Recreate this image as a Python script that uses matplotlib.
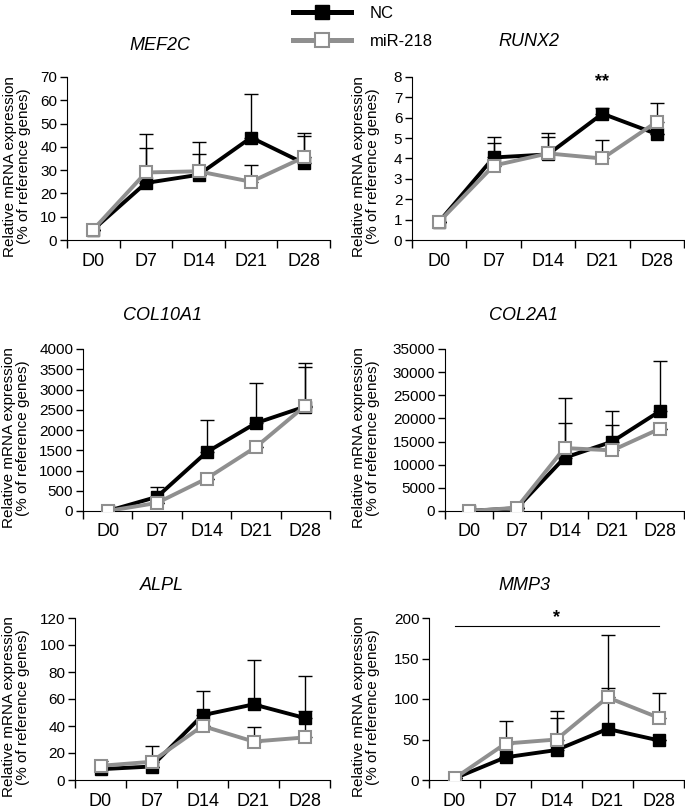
import matplotlib.pyplot as plt
from matplotlib.lines import Line2D

plt.rcParams['font.family'] = ['Liberation Sans', 'DejaVu Sans']

days = ['D0', 'D7', 'D14', 'D21', 'D28']
genes = ['MEF2C', 'RUNX2', 'COL10A1', 'COL2A1', 'ALPL', 'MMP3']

# mean values
nc_mef2c = [4.5, 24.5, 28, 44, 33]
mir_mef2c = [4.5, 29, 29.5, 25, 35.5]
nc_runx2 = [0.9, 4.05, 4.2, 6.2, 5.2]
mir_runx2 = [0.9, 3.65, 4.25, 4.0, 5.8]
nc_col10 = [0, 350, 1450, 2170, 2580]
mir_col10 = [0, 200, 800, 1580, 2600]
nc_col2 = [0, 600, 11500, 15000, 21600]
mir_col2 = [0, 700, 13600, 13100, 17800]
nc_alpl = [8, 10, 48, 56, 46]
mir_alpl = [10.5, 13.5, 40, 28.5, 31.5]
nc_mmp3 = [2, 28, 37, 63, 49]
mir_mmp3 = [2, 45, 50, 102, 77]

# upper error bars (SD, plus side only)
nc_mef2c_err = [0, 15, 14, 18.5, 13]
mir_mef2c_err = [0, 16.5, 7.5, 7, 9]
nc_runx2_err = [0, 0.7, 1.05, 0.3, 0]
mir_runx2_err = [0, 1.4, 0.8, 0.9, 0.9]
nc_col10_err = [0, 250, 800, 980, 1070]
mir_col10_err = [0, 0, 0, 0, 950]
nc_col2_err = [0, 0, 7500, 3500, 10700]
mir_col2_err = [0, 0, 10800, 8500, 0]
nc_alpl_err = [0, 0, 18, 33, 31]
mir_alpl_err = [3.5, 11.5, 0, 11, 19.5]
nc_mmp3_err = [0, 0, 40, 51, 0]
mir_mmp3_err = [0, 28, 35, 77, 31]

ymax = [70, 8, 4000, 35000, 120, 200]
ystep = [10, 1, 500, 5000, 20, 50]

nc_all = [nc_mef2c, nc_runx2, nc_col10, nc_col2, nc_alpl, nc_mmp3]
mir_all = [mir_mef2c, mir_runx2, mir_col10, mir_col2, mir_alpl, mir_mmp3]
nc_err = [nc_mef2c_err, nc_runx2_err, nc_col10_err, nc_col2_err, nc_alpl_err, nc_mmp3_err]
mir_err = [mir_mef2c_err, mir_runx2_err, mir_col10_err, mir_col2_err, mir_alpl_err, mir_mmp3_err]

W, H = 685, 809
# axes boxes in pixels: left, right, top, bottom
boxes = [(67, 330, 77, 240), (412, 684, 77, 240),
         (83, 330, 349, 511), (445, 684, 349, 511),
         (75, 330, 618, 780), (429, 684, 618, 780)]
title_pos = [(160, 45), (529, 42), (162, 315), (524, 315), (162, 585), (524, 585)]
ylab_x = [17, 366, 16, 366, 16, 366]

gray = '#8f8f8f'
fig = plt.figure(figsize=(W / 100, H / 100), dpi=100)

axes = []
for i, g in enumerate(genes):
    l, r, t, b = boxes[i]
    ax = fig.add_axes([l / W, 1 - b / H, (r - l) / W, (b - t) / H])
    axes.append(ax)
    x = list(range(len(days)))

    ax.errorbar(x, nc_all[i], yerr=[[0] * 5, nc_err[i]], fmt='none', ecolor='black',
                elinewidth=1, capsize=5, capthick=1, zorder=1)
    ax.errorbar(x, mir_all[i], yerr=[[0] * 5, mir_err[i]], fmt='none', ecolor='black',
                elinewidth=1, capsize=5, capthick=1, zorder=1)
    ax.plot(x, nc_all[i], color='black', lw=2.8, marker='s', ms=8.5,
            mfc='black', mec='black', zorder=2)
    ax.plot(x, mir_all[i], color=gray, lw=2.8, marker='s', ms=8.5,
            mfc='white', mec=gray, mew=1.5, zorder=3)

    ax.set_xlim(-0.5, 4.5)
    ax.set_ylim(0, ymax[i])
    ax.set_yticks([k * ystep[i] for k in range(int(ymax[i] / ystep[i]) + 1)])
    ax.set_xticks([k - 0.5 for k in range(6)])
    ax.set_xticklabels([])
    ax.set_xticks(x, minor=True)
    ax.set_xticklabels(days, minor=True, fontsize=13)
    ax.tick_params(axis='x', which='major', direction='out', length=6, width=1)
    ax.tick_params(axis='x', which='minor', length=0, pad=9)
    ax.tick_params(axis='y', direction='out', length=5, width=1, labelsize=11, pad=2)
    for s in ['top', 'right']:
        ax.spines[s].set_visible(False)

    fig.text(ylab_x[i] / W, 1 - ((t + b) / 2 + 8) / H,
             'Relative mRNA expression\n(% of reference genes)', rotation=90,
             fontsize=11, linespacing=1.0, ha='center', va='center', multialignment='center')
    fig.text(title_pos[i][0] / W, 1 - title_pos[i][1] / H, g, style='italic',
             fontsize=13, ha='center', va='center')

# significance marks
axes[1].text(3, 7.75, '**', ha='center', va='center', fontsize=13, fontweight='bold')
axes[5].plot([0, 4], [190, 190], color='black', lw=0.8)
axes[5].text(2, 200, '*', ha='center', va='center', fontsize=13, fontweight='bold')

handles = [Line2D([], [], color='black', lw=3.6, marker='s', ms=10, mfc='black'),
           Line2D([], [], color=gray, lw=3.6, marker='s', ms=10, mfc='white', mec=gray, mew=1.5)]
fig.legend(handles, ['NC', 'miR-218'], loc='upper left', bbox_to_anchor=(278 / W, 1.011),
           frameon=False, fontsize=12, handlelength=3.5, labelspacing=0.75, handletextpad=1.1)

fig.savefig('out.png', dpi=100)
